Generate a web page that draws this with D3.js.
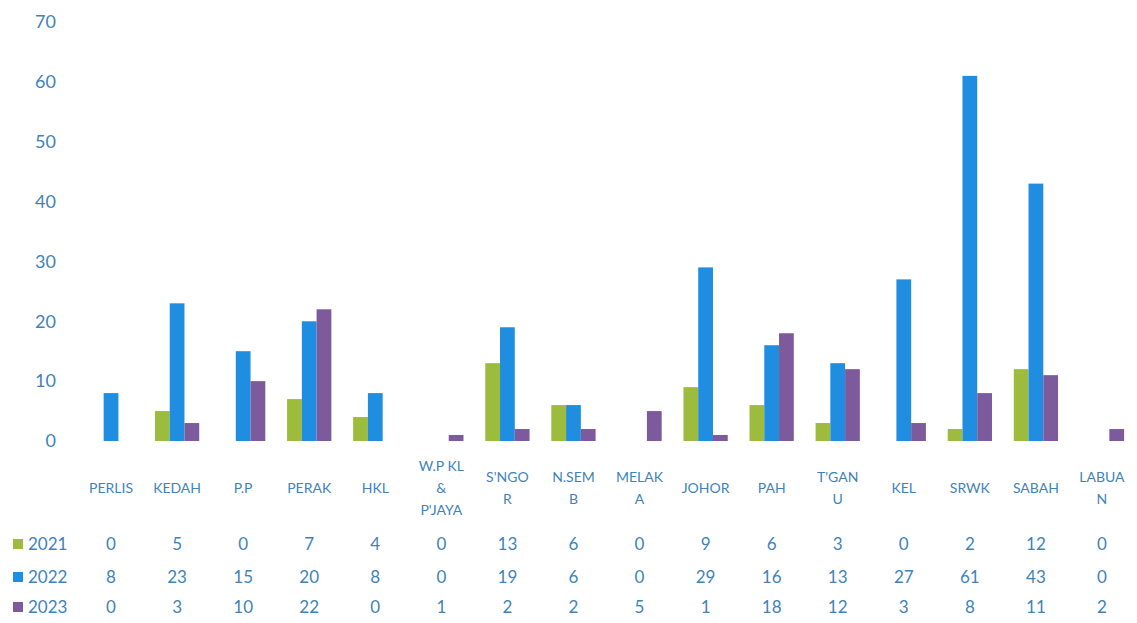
<!DOCTYPE html>
<html>
<head>
<meta charset="utf-8">
<script src="https://cdn.jsdelivr.net/npm/d3@7"></script>
<style>
  body { margin: 0; background: #fff; }
  text { font-family: Lato, "Open Sans", sans-serif; }
</style>
</head>
<body>
<svg id="chart" width="1137" height="623"></svg>
<script>
// chart data
const states = ['PERLIS', 'KEDAH', 'P.P', 'PERAK', 'HKL', 'W.P KL|&|P\'JAYA', 'S\'NGO|R',
  'N.SEM|B', 'MELAK|A', 'JOHOR', 'PAH', 'T\'GAN|U', 'KEL', 'SRWK', 'SABAH', 'LABUA|N']
const years = ['2021', '2022', '2023']
const v2021 = [0, 5, 0, 7, 4, 0, 13, 6, 0, 9, 6, 3, 0, 2, 12, 0]
const v2022 = [8, 23, 15, 20, 8, 0, 19, 6, 0, 29, 16, 13, 27, 61, 43, 0]
const v2023 = [0, 3, 10, 22, 0, 1, 2, 2, 5, 1, 18, 12, 3, 8, 11, 2]
const yTicks = [0, 10, 20, 30, 40, 50, 60, 70]

const colors = ['#9dbb3d', '#1f8de0', '#7d5a9c']
const textColor = '#3f83ba'
const series = [v2021, v2022, v2023]

const svg = d3.select('#chart')
const plotTop = 22, base = 441

const x = d3.scaleBand()
    .domain(states)
    .range([78, 1135])
    .paddingInner(0.33)
    .paddingOuter(0.165)

const xInner = d3.scaleBand()
    .domain(years)
    .range([0, x.bandwidth()])

const y = d3.scaleLinear()
    .domain([0, 70])
    .range([base, plotTop])

// y axis (labels only)
const yAxis = svg.append('g')
    .attr('transform', 'translate(56,0)')
    .call(d3.axisLeft(y).tickValues(yTicks).tickSize(0).tickPadding(0))
yAxis.select('.domain').remove()
yAxis.selectAll('text')
    .style('font-size', '18px')
    .style('fill', textColor)

// bars
const groups = svg.append('g')
    .selectAll('g')
    .data(states)
    .enter()
    .append('g')
        .attr('transform', d => `translate(${x(d)},0)`)

groups.selectAll('rect')
    .data((d, i) => years.map((yr, k) => ({yr: yr, v: series[k][i], k: k})))
    .enter()
    .append('rect')
        .attr('x', d => xInner(d.yr))
        .attr('width', xInner.bandwidth())
        .attr('y', d => y(d.v))
        .attr('height', d => base - y(d.v))
        .style('fill', d => colors[d.k])

// category labels, split into lines
const lineH = 22
svg.append('g')
    .selectAll('text')
    .data(states)
    .enter()
    .append('text')
        .attr('text-anchor', 'middle')
        .style('font-size', '14px')
        .style('fill', textColor)
        .each(function(d) {
            const lines = d.split('|')
            const t = d3.select(this)
            const cx = x(d) + x.bandwidth() / 2
            const y0 = 493 - (lines.length - 1) * lineH / 2
            lines.forEach((ln, j) => {
                t.append('tspan')
                    .attr('x', cx)
                    .attr('y', y0 + j * lineH)
                    .text(ln)
            })
        })

// data table
const rowY = [550, 583, 613]
years.forEach((yr, k) => {
    const row = svg.append('g')
    row.append('rect')
        .attr('x', 13)
        .attr('y', rowY[k] - 11)
        .attr('width', 10)
        .attr('height', 10)
        .style('fill', colors[k])
    row.append('text')
        .attr('x', 28)
        .attr('y', rowY[k])
        .style('font-size', '17px')
        .style('fill', textColor)
        .text(yr)
    row.selectAll('text.val')
        .data(series[k])
        .enter()
        .append('text')
            .attr('class', 'val')
            .attr('x', (d, i) => x(states[i]) + x.bandwidth() / 2)
            .attr('y', rowY[k])
            .attr('text-anchor', 'middle')
            .style('font-size', '17px')
            .style('fill', textColor)
            .text(d => d)
})
</script>
</body>
</html>
